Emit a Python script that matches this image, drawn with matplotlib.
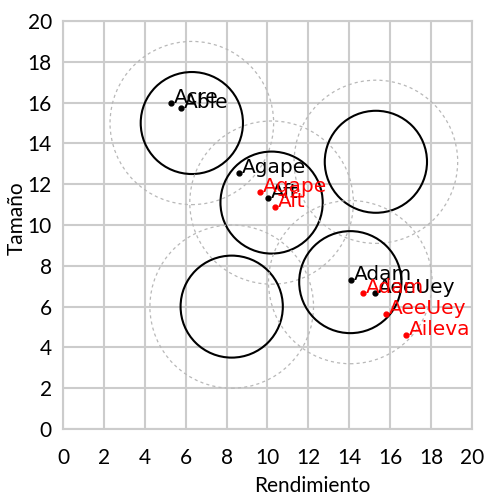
import matplotlib.pyplot as plt
from matplotlib.patches import Circle

# cluster circles (centre of each group)
circle_x = [6.3, 10.2, 15.3, 8.25, 14.05]
circle_y = [15.0, 11.1, 13.1, 6.0, 7.2]
inner_r = 2.5
outer_r = 4.0

# black labelled points
black_names = ["Acre", "Able", "Agape", "Aft", "Adam", "AeeUey"]
black_x = [5.27, 5.77, 8.62, 10.04, 14.08, 15.26]
black_y = [16.0, 15.72, 12.53, 11.3, 7.3, 6.65]

# red labelled points
red_names = ["Agape", "Aft", "Adam", "AeeUey", "Aileva"]
red_x = [9.63, 10.37, 14.65, 15.8, 16.77]
red_y = [11.63, 10.9, 6.65, 5.64, 4.6]

ticks = list(range(0, 21, 2))

fig = plt.figure(figsize=(4.91, 4.97), dpi=100)
ax = fig.add_axes([0.1283, 0.1368, 0.833, 0.8209])

ax.set_xlim(0, 20)
ax.set_ylim(0, 20)
ax.set_xticks(ticks)
ax.set_yticks(ticks)
ax.set_xticklabels([str(t) for t in ticks], family="Lato", fontsize=15)
ax.set_yticklabels([str(t) for t in ticks], family="Lato", fontsize=15)
ax.tick_params(length=0, pad=8)
ax.tick_params(axis="x", pad=14)
ax.grid(True, color="#cccccc", linewidth=1.5)
ax.set_axisbelow(True)
for s in ax.spines.values():
    s.set_color("#cccccc")
    s.set_linewidth(1.5)

for cx, cy in zip(circle_x, circle_y):
    ax.add_patch(Circle((cx, cy), outer_r, fill=False, edgecolor="#b8b8b8",
                        linestyle=(0, (2.5, 2.5)), linewidth=0.9))
    ax.add_patch(Circle((cx, cy), inner_r, fill=False, edgecolor="black",
                        linewidth=1.5))

ax.plot(black_x, black_y, "o", color="black", markersize=3.5, linestyle="none")
for n, x, y in zip(black_names, black_x, black_y):
    ax.annotate(n, (x, y), xytext=(2, 0), textcoords="offset points",
                fontsize=14.5, color="black", va="baseline", family="DejaVu Sans")

ax.plot(red_x, red_y, "o", color="red", markersize=3.5, linestyle="none")
for n, x, y in zip(red_names, red_x, red_y):
    ax.annotate(n, (x, y), xytext=(2, 0), textcoords="offset points",
                fontsize=14.5, color="red", va="baseline", family="DejaVu Sans")

ax.set_xlabel("Rendimiento", family="Lato", fontsize=15)
ax.xaxis.set_label_coords(0.61, -0.115)
ax.set_ylabel("Tamaño", family="Lato", fontsize=15)
ax.yaxis.set_label_coords(-0.088, 0.517)

fig.savefig("out.png", dpi=100)
